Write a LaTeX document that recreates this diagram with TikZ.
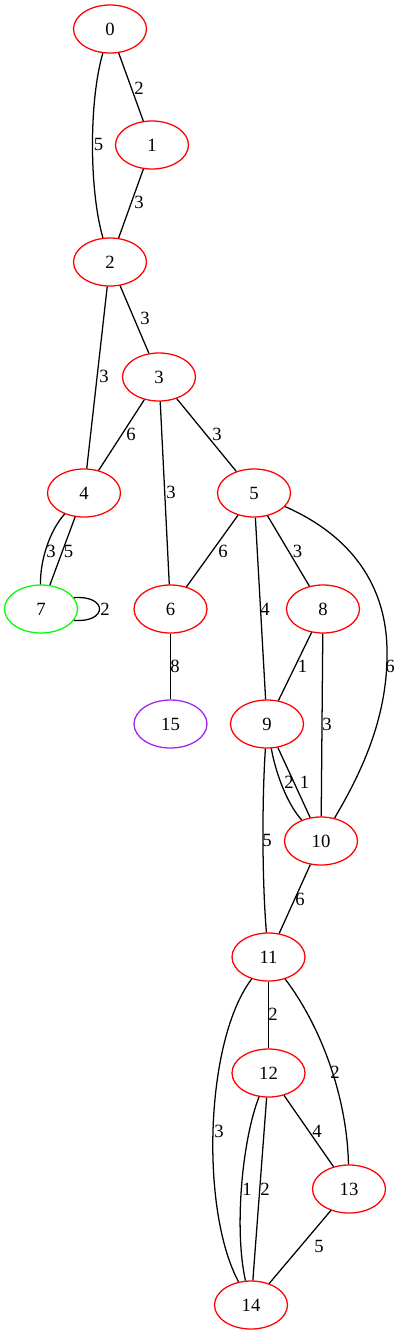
\documentclass[tikz,border=0pt]{standalone}
\usepackage{fontspec}
\setmainfont{Liberation Serif}
\usetikzlibrary{shapes.geometric}
\definecolor{gvred}{HTML}{FF0000}
\definecolor{gvgreen}{HTML}{00FF00}
\definecolor{gvpurple}{HTML}{A020F0}
\tikzset{
  gnode/.style={ellipse, draw=gvred, line width=0.95pt, minimum width=54.75pt, minimum height=36pt, inner sep=0pt, font=\fontsize{14}{16}\selectfont},
  lbl/.style={inner sep=0pt, font=\fontsize{14}{16}\selectfont},
  gedge/.style={draw=black, line width=0.95pt}
}
\begin{document}
\begin{tikzpicture}[x=0.75pt,y=-0.75pt]
\useasboundingbox (0,0) rectangle (400,1335);
% nodes
\node[gnode] (n0) at (110,29) {0};
\node[gnode] (n1) at (152,145) {1};
\node[gnode] (n2) at (110,262) {2};
\node[gnode] (n3) at (159,377) {3};
\node[gnode] (n4) at (84,493) {4};
\node[gnode] (n5) at (254,493) {5};
\node[gnode, draw=gvgreen] (n7) at (41,609) {7};
\node[gnode] (n6) at (170.5,609) {6};
\node[gnode] (n8) at (323,609) {8};
\node[gnode, draw=gvpurple] (n15) at (170.5,724) {15};
\node[gnode] (n9) at (267,724) {9};
\node[gnode] (n10) at (321,841) {10};
\node[gnode] (n11) at (268.5,957) {11};
\node[gnode] (n12) at (268.5,1073) {12};
\node[gnode] (n13) at (349,1189) {13};
\node[gnode] (n14) at (251,1305) {14};
% edges
\path[gedge] (n0) -- (n1);
\path[gedge] (n0) .. controls (89,100) and (89,190) .. (n2);
\path[gedge] (n1) -- (n2);
\path[gedge] (n2) -- (n3);
\path[gedge] (n2) -- (n4);
\path[gedge] (n3) -- (n4);
\path[gedge] (n3) -- (n5);
\path[gedge] (n3) -- (n6);
\path[gedge] (n4) .. controls (50,530) and (40,560) .. (n7);
\path[gedge] (n4) -- (n7);
\path[gedge] (n7.19) .. controls (108,595) and (108,623) .. (n7.-19);
\path[gedge] (n5) -- (n6);
\path[gedge] (n5) -- (n9);
\path[gedge] (n5) -- (n8);
\path[gedge] (n5) .. controls (350,535) and (388,585) .. (387,655) .. controls (387,720) and (360,775) .. (n10);
\path[gedge] (n6) -- (n15);
\path[gedge] (n8) -- (n9);
\path[gedge] (n8) -- (n10);
\path[gedge] (n9) .. controls (276,775) and (288,805) .. (n10);
\path[gedge] (n9) -- (n10);
\path[gedge] (n9) .. controls (262,800) and (262,880) .. (n11);
\path[gedge] (n10) -- (n11);
\path[gedge] (n11) -- (n12);
\path[gedge] (n11) .. controls (320,1025) and (347,1095) .. (n13);
\path[gedge] (n11) .. controls (205,1040) and (200,1210) .. (n14);
\path[gedge] (n12) -- (n13);
\path[gedge] (n12) .. controls (242,1140) and (234,1230) .. (n14);
\path[gedge] (n12) -- (n14);
\path[gedge] (n13) -- (n14);
% edge labels
\node[lbl] (l01) at (139,88) {2};
\node[lbl] (l02) at (98.5,144) {5};
\node[lbl] (l12) at (139,202) {3};
\node[lbl] (l23) at (145,318) {3};
\node[lbl] (l24) at (104,376) {3};
\node[lbl] (l34) at (131,434) {6};
\node[lbl] (l35) at (217,434) {3};
\node[lbl] (l36) at (171,492) {3};
\node[lbl] (l47a) at (51,551) {3};
\node[lbl] (l47b) at (68.5,551) {5};
\node[lbl] (l56) at (223,551) {6};
\node[lbl] (l58) at (297.5,551) {3};
\node[lbl] (l77) at (105,609) {2};
\node[lbl] (l59) at (265,609) {4};
\node[lbl] (l615) at (175,666) {8};
\node[lbl] (l89) at (302.5,666) {1};
\node[lbl] (l510) at (390,666) {6};
\node[lbl] (l810) at (327,724) {3};
\node[lbl] (l910a) at (289,782) {2};
\node[lbl] (l910b) at (304.5,782) {1};
\node[lbl] (l911) at (267,840) {5};
\node[lbl] (l1011) at (300,899) {6};
\node[lbl] (l1112) at (273,1014) {2};
\node[lbl] (l1113) at (335,1072) {2};
\node[lbl] (l1213) at (317,1131) {4};
\node[lbl] (l1114) at (219,1131) {3};
\node[lbl] (l1214a) at (247,1189) {1};
\node[lbl] (l1214b) at (265,1189) {2};
\node[lbl] (l1314) at (319,1246) {5};
\end{tikzpicture}
\end{document}
